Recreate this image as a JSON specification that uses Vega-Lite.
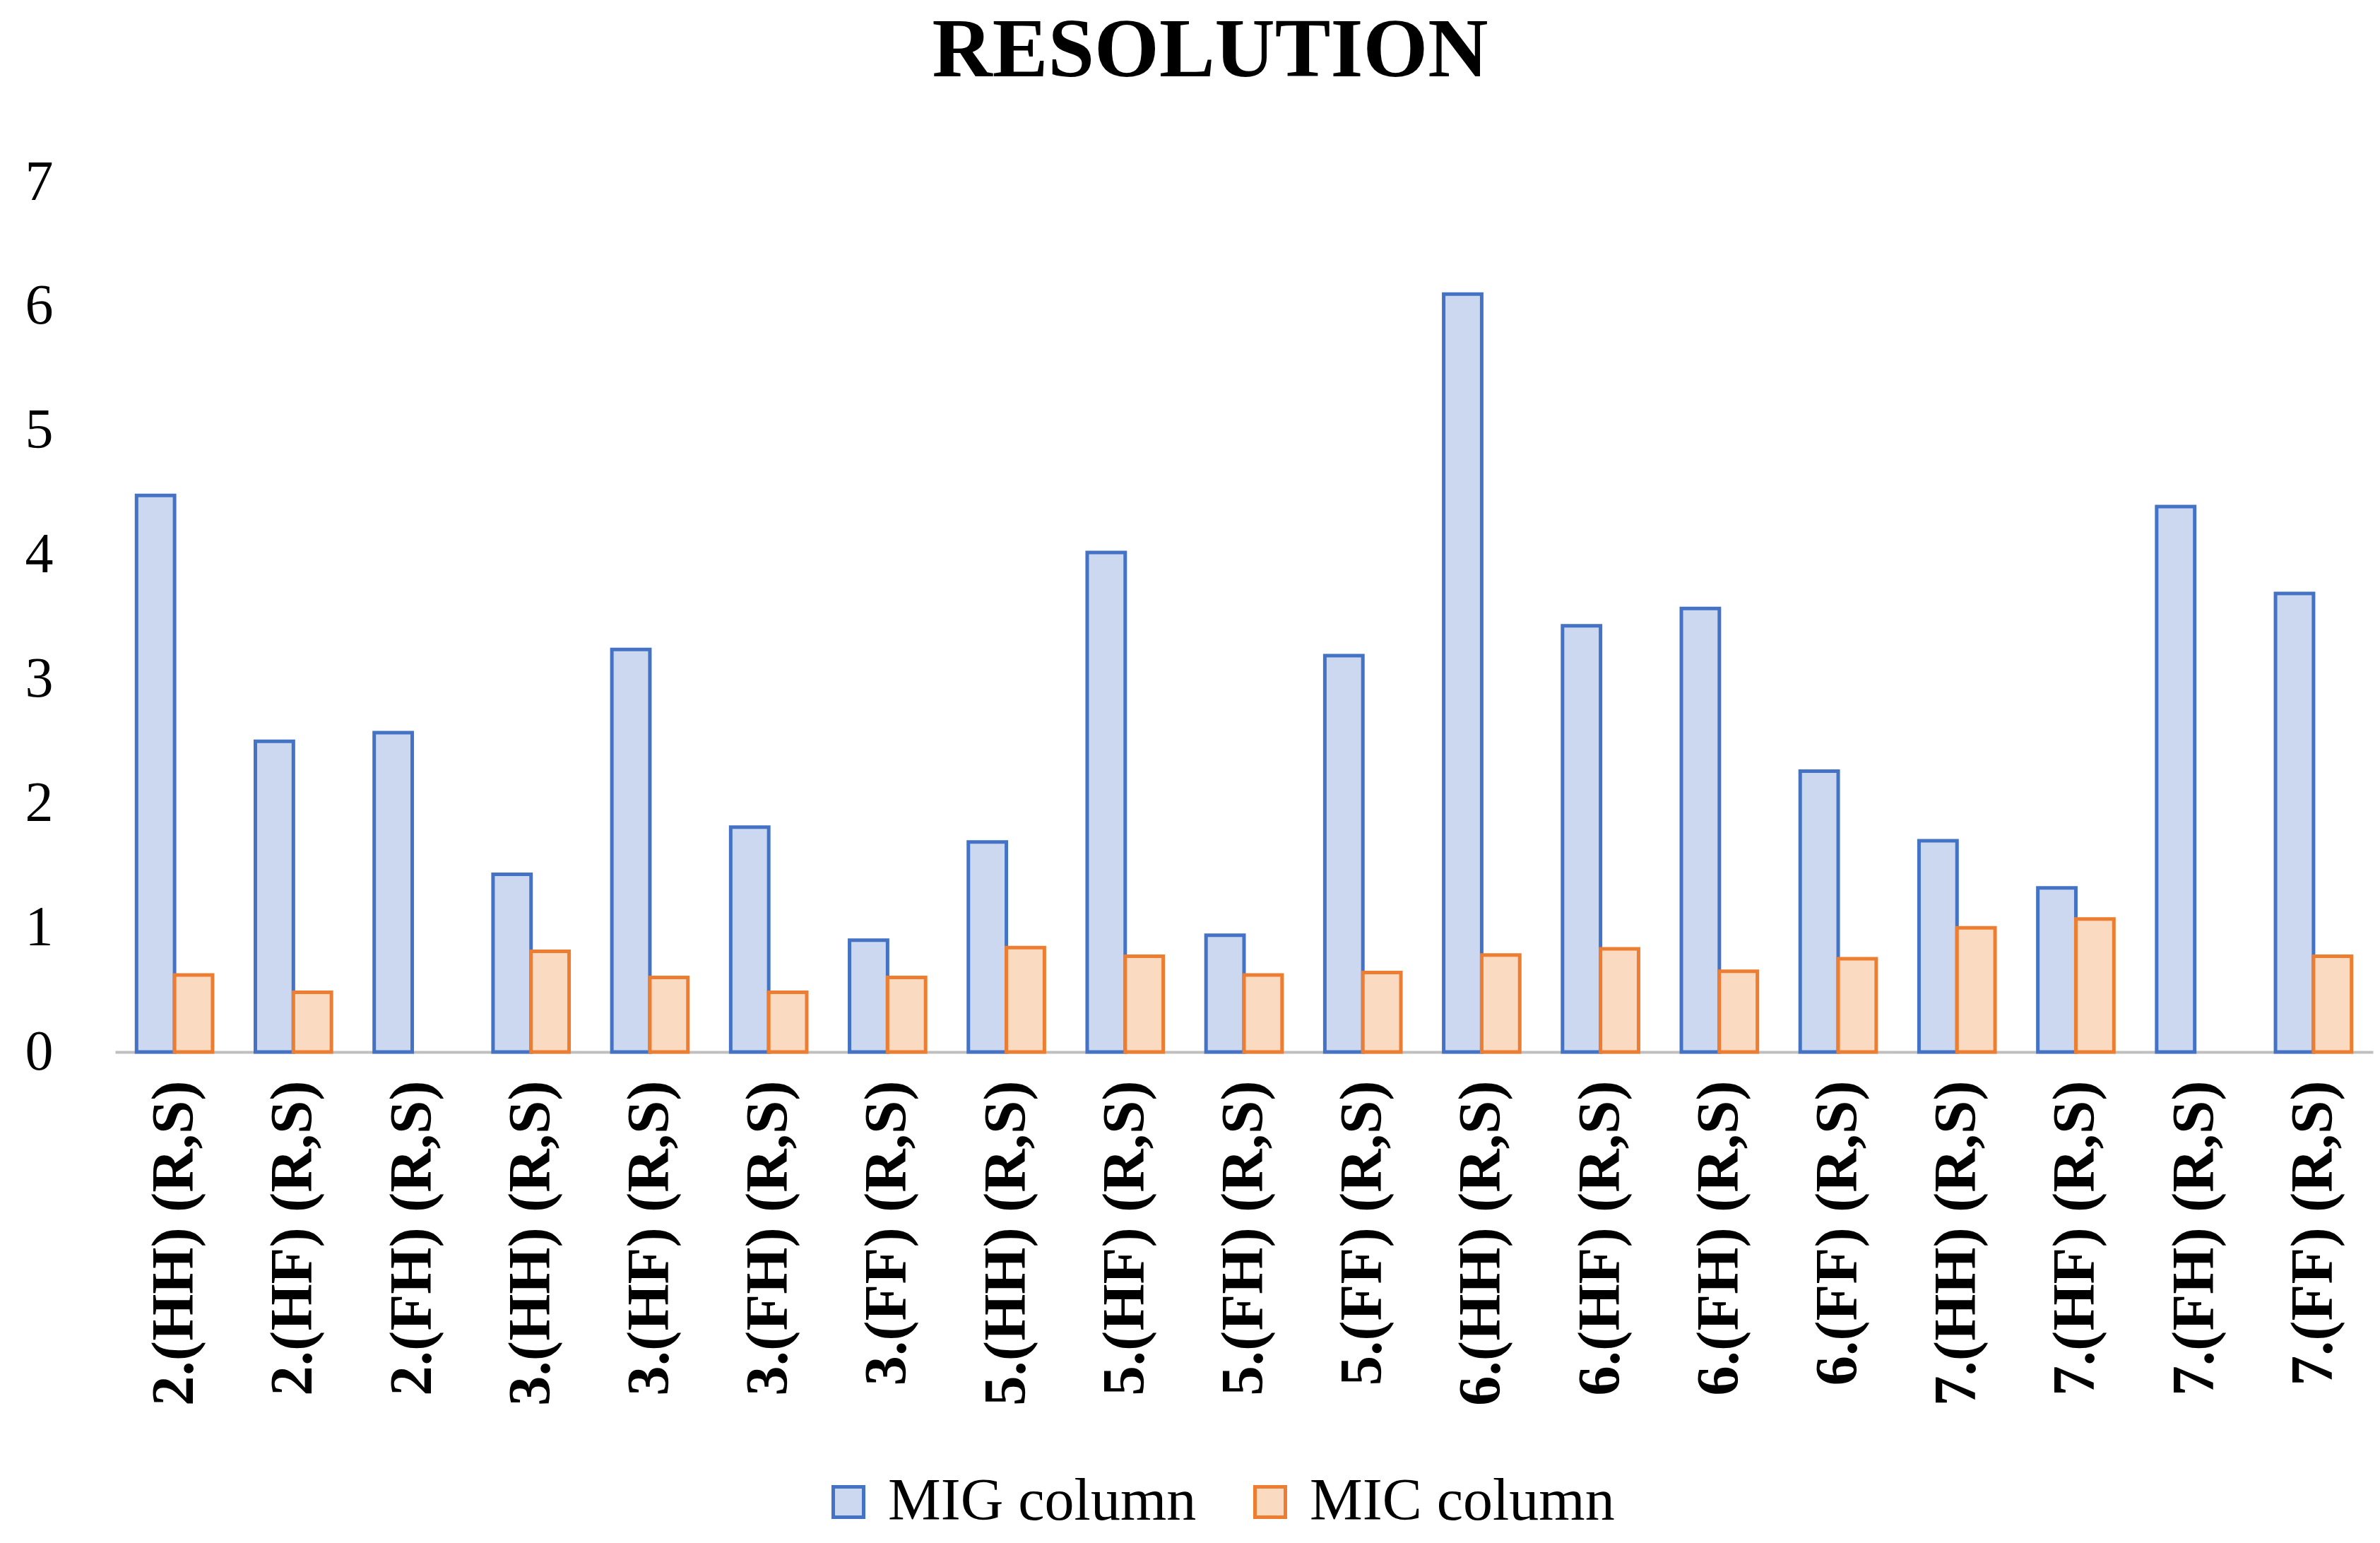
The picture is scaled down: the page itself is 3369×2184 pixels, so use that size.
{
  "$schema": "https://vega.github.io/schema/vega-lite/v6.json",
  "autosize": "none",
  "width": 3196,
  "height": 1231,
  "padding": {"left": 163, "top": 258, "right": 10, "bottom": 695},
  "background": "white",
  "config": {"view": {"stroke": null}},
  "title": {
    "text": "RESOLUTION",
    "font": "Liberation Serif",
    "fontSize": 118,
    "fontWeight": "bold",
    "color": "black",
    "anchor": "middle",
    "dx": -48,
    "offset": 85
  },
  "data": {
    "values": [
      {"category": "2.(HH) (R,S)", "series": "MIG column", "value": 4.48},
      {"category": "2.(HH) (R,S)", "series": "MIC column", "value": 0.62},
      {"category": "2.(HF) (R,S)", "series": "MIG column", "value": 2.5},
      {"category": "2.(HF) (R,S)", "series": "MIC column", "value": 0.48},
      {"category": "2.(FH) (R,S)", "series": "MIG column", "value": 2.57},
      {"category": "3.(HH) (R,S)", "series": "MIG column", "value": 1.43},
      {"category": "3.(HH) (R,S)", "series": "MIC column", "value": 0.81},
      {"category": "3.(HF) (R,S)", "series": "MIG column", "value": 3.24},
      {"category": "3.(HF) (R,S)", "series": "MIC column", "value": 0.6},
      {"category": "3.(FH) (R,S)", "series": "MIG column", "value": 1.81},
      {"category": "3.(FH) (R,S)", "series": "MIC column", "value": 0.48},
      {"category": "3.(FF) (R,S)", "series": "MIG column", "value": 0.9},
      {"category": "3.(FF) (R,S)", "series": "MIC column", "value": 0.6},
      {"category": "5.(HH) (R,S)", "series": "MIG column", "value": 1.69},
      {"category": "5.(HH) (R,S)", "series": "MIC column", "value": 0.84},
      {"category": "5.(HF) (R,S)", "series": "MIG column", "value": 4.02},
      {"category": "5.(HF) (R,S)", "series": "MIC column", "value": 0.77},
      {"category": "5.(FH) (R,S)", "series": "MIG column", "value": 0.94},
      {"category": "5.(FH) (R,S)", "series": "MIC column", "value": 0.62},
      {"category": "5.(FF) (R,S)", "series": "MIG column", "value": 3.19},
      {"category": "5.(FF) (R,S)", "series": "MIC column", "value": 0.64},
      {"category": "6.(HH) (R,S)", "series": "MIG column", "value": 6.1},
      {"category": "6.(HH) (R,S)", "series": "MIC column", "value": 0.78},
      {"category": "6.(HF) (R,S)", "series": "MIG column", "value": 3.43},
      {"category": "6.(HF) (R,S)", "series": "MIC column", "value": 0.83},
      {"category": "6.(FH) (R,S)", "series": "MIG column", "value": 3.57},
      {"category": "6.(FH) (R,S)", "series": "MIC column", "value": 0.65},
      {"category": "6.(FF) (R,S)", "series": "MIG column", "value": 2.26},
      {"category": "6.(FF) (R,S)", "series": "MIC column", "value": 0.75},
      {"category": "7.(HH) (R,S)", "series": "MIG column", "value": 1.7},
      {"category": "7.(HH) (R,S)", "series": "MIC column", "value": 1.0},
      {"category": "7.(HF) (R,S)", "series": "MIG column", "value": 1.32},
      {"category": "7.(HF) (R,S)", "series": "MIC column", "value": 1.07},
      {"category": "7.(FH) (R,S)", "series": "MIG column", "value": 4.39},
      {"category": "7.(FF) (R,S)", "series": "MIG column", "value": 3.69},
      {"category": "7.(FF) (R,S)", "series": "MIC column", "value": 0.77}
    ]
  },
  "mark": {"type": "bar", "strokeWidth": 5},
  "encoding": {
    "x": {
      "field": "category",
      "type": "nominal",
      "sort": null,
      "title": null,
      "scale": {"paddingInner": 0.36, "paddingOuter": 0.18},
      "axis": {
        "labelAngle": -90,
        "labelFont": "Liberation Serif",
        "labelFontSize": 85,
        "labelFontWeight": "bold",
        "labelColor": "black",
        "labelPadding": 40,
        "labelLimit": 1000,
        "ticks": false,
        "domainColor": "#bfbfbf",
        "domainWidth": 4
      }
    },
    "xOffset": {
      "field": "series",
      "type": "nominal",
      "scale": {"domain": ["MIG column", "MIC column"], "paddingInner": 0}
    },
    "y": {
      "field": "value",
      "type": "quantitative",
      "title": null,
      "scale": {"domain": [0, 7], "nice": false},
      "axis": {
        "values": [0, 1, 2, 3, 4, 5, 6, 7],
        "labelFont": "Liberation Serif",
        "labelFontSize": 80,
        "labelColor": "black",
        "labelPadding": 88,
        "domain": false,
        "ticks": false,
        "grid": false
      }
    },
    "fill": {
      "field": "series",
      "type": "nominal",
      "scale": {"domain": ["MIG column", "MIC column"], "range": ["#cbd8f0", "#fbdac2"]},
      "legend": {
        "title": null,
        "orient": "none",
        "legendX": 996,
        "legendY": 1826,
        "direction": "horizontal",
        "labelFont": "Liberation Serif",
        "labelFontSize": 84,
        "labelColor": "black",
        "symbolType": "square",
        "symbolSize": 1850,
        "symbolStrokeWidth": 5,
        "columnPadding": 62,
        "labelOffset": 14,
        "labelLimit": 1000
      }
    },
    "stroke": {
      "field": "series",
      "type": "nominal",
      "scale": {"domain": ["MIG column", "MIC column"], "range": ["#4472c4", "#ed7d31"]},
      "legend": null
    }
  }
}
